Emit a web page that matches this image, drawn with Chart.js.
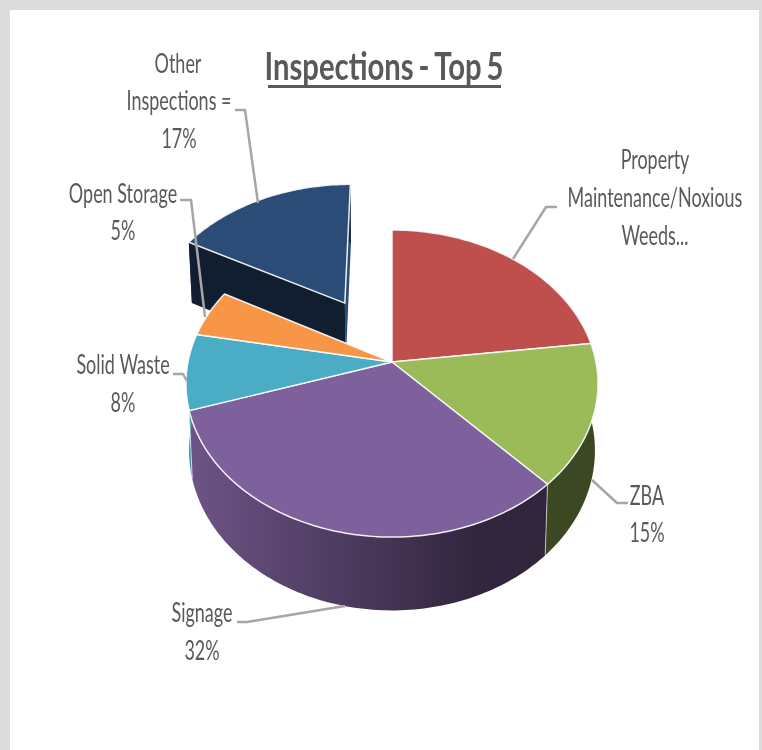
<!DOCTYPE html>
<html>
<head>
<meta charset="utf-8">
<title>Inspections - Top 5</title>
<script src="https://cdn.jsdelivr.net/npm/chart.js@4/dist/chart.umd.min.js"></script>
<style>
  html, body { margin: 0; padding: 0; background: #dcdcdc; overflow: hidden; }
  #plate { position: absolute; left: 10px; top: 10px; width: 749px; height: 740px; background: #fff; }
  #pie { position: absolute; left: 0; top: 0; display: block; }
</style>
</head>
<body>
<div id="plate"></div>
<canvas id="pie" width="762" height="750"></canvas>
<script>
const categories = ['Property Maintenance/Noxious Weeds...', 'ZBA', 'Signage', 'Solid Waste', 'Open Storage', 'Other Inspections ='];
const percentValues = [23, 15, 32, 8, 5, 17];
const sliceColors = ['#be4f4c', '#9bbb59', '#7e609c', '#4bacc6', '#f79646', '#2b4c76'];
const sliceOffsets = [0, 0, 0, 0, 0, 392];

// Callout text and leader lines
const callouts = [
  { lines: [['Property', 655, 169], ['Maintenance/Noxious', 655, 207], ['Weeds...', 655, 245]], leader: [[557, 207], [546, 207], [513, 259]] },
  { lines: [['ZBA', 647, 505], ['%', 647, 542]], leader: [[628, 503], [617, 503], [592, 480]] },
  { lines: [['Signage', 202, 622], ['%', 202, 660]], leader: [[237, 622], [247, 622], [345, 606]] },
  { lines: [['Solid Waste', 123, 374], ['%', 123, 412]], leader: [[173, 374], [183, 374], [187, 381]] },
  { lines: [['Open Storage', 123, 203], ['%', 123, 240]], leader: [[180, 200], [191, 200], [205, 317]] },
  { lines: [['Other', 178, 73], ['Inspections =', 179, 110], ['%', 179, 148]], leader: [[235, 110], [245, 110], [258, 203]] }
];

const TILT = 0.738;       // vertical squash of the pie plane
const PERSPECTIVE = 0.14; // front edge larger than the back edge
const DEPTH = 66;         // height of the pie walls
const BASE_SHRINK = 0.015;
const TEXT_COLOR = '#595959';

function shade(hex, f) {
  const n = parseInt(hex.slice(1), 16);
  const r = Math.round((n >> 16) * f);
  const g = Math.round(((n >> 8) & 255) * f);
  const b = Math.round((n & 255) * f);
  return `rgb(${r},${g},${b})`;
}

// Circle plane coordinates (px from the pie centre) to screen, z = 0 top face, z = 1 base
function project(arc, px, py, z) {
  const s = 1 / (1 - PERSPECTIVE * py / arc.outerRadius);
  return [
    arc.x + px * s * (1 - z * BASE_SHRINK),
    arc.y + py * TILT * s + z * DEPTH * Math.pow(s, 0.7)
  ];
}

function tracePolygon(ctx, points) {
  ctx.beginPath();
  points.forEach((p, i) => i ? ctx.lineTo(p[0], p[1]) : ctx.moveTo(p[0], p[1]));
  ctx.closePath();
}

function slicePoints(arc, z) {
  const shift = (arc.options.offset || 0) / 4;
  const mid = (arc.startAngle + arc.endAngle) / 2;
  const ox = Math.cos(mid) * shift;
  const oy = Math.sin(mid) * shift;
  const rim = [];
  const steps = Math.max(2, Math.ceil((arc.endAngle - arc.startAngle) / 0.02));
  for (let i = 0; i <= steps; i++) {
    const a = arc.startAngle + (arc.endAngle - arc.startAngle) * i / steps;
    rim.push(project(arc, ox + Math.cos(a) * arc.outerRadius, oy + Math.sin(a) * arc.outerRadius, z));
  }
  return { rim, apex: project(arc, ox, oy, z) };
}

function drawWall(ctx, arc, color) {
  const top = slicePoints(arc, 0).rim;
  const base = slicePoints(arc, 1).rim;
  const grad = ctx.createLinearGradient(186, 0, 598, 0);
  grad.addColorStop(0, shade(color, 0.87));
  grad.addColorStop(0.7, shade(color, 0.4));
  grad.addColorStop(1, shade(color, 0.38));
  tracePolygon(ctx, top.concat(base.slice().reverse()));
  ctx.fillStyle = grad;
  ctx.fill();
}

function drawCutFace(ctx, arc, color, atEnd, factor) {
  const top = slicePoints(arc, 0);
  const base = slicePoints(arc, 1);
  const i = atEnd ? top.rim.length - 1 : 0;
  tracePolygon(ctx, [top.apex, top.rim[i], base.rim[i], base.apex]);
  ctx.fillStyle = shade(color, factor);
  ctx.fill();
}

function drawTop(ctx, arc, color) {
  const top = slicePoints(arc, 0);
  tracePolygon(ctx, [top.apex].concat(top.rim));
  ctx.fillStyle = color;
  ctx.fill();
  ctx.strokeStyle = 'rgba(255,255,255,0.9)';
  ctx.lineWidth = 1.5;
  ctx.lineJoin = 'round';
  ctx.stroke();
}

function drawSeam(ctx, arc) {
  const a = slicePoints(arc, 0).rim;
  const b = slicePoints(arc, 1).rim;
  ctx.beginPath();
  ctx.moveTo(a[0][0], a[0][1]);
  ctx.lineTo(b[0][0], b[0][1]);
  ctx.strokeStyle = 'rgba(255,255,255,0.6)';
  ctx.lineWidth = 1;
  ctx.stroke();
}

function drawText(ctx, text, x, y, font, xScale) {
  ctx.save();
  ctx.translate(x, y);
  ctx.scale(xScale, 1);
  ctx.font = font;
  ctx.textAlign = 'center';
  ctx.textBaseline = 'alphabetic';
  ctx.fillStyle = TEXT_COLOR;
  ctx.fillText(text, 0, 0);
  ctx.restore();
}

// Replaces the flat arcs with a tilted, extruded pie built from the arc elements
const pie3d = {
  id: 'pie3d',
  beforeDatasetsDraw(chart) {
    const ctx = chart.ctx;
    const arcs = chart.getDatasetMeta(0).data;
    const loose = arcs.filter(a => a.options.offset > 0);
    const seated = arcs.filter(a => !(a.options.offset > 0));

    loose.forEach(arc => {
      const color = sliceColors[arcs.indexOf(arc)];
      drawCutFace(ctx, arc, color, true, 1);
      drawWall(ctx, arc, color);
      drawCutFace(ctx, arc, color, false, 0.4);
      drawTop(ctx, arc, color);
    });
    seated.forEach(arc => drawWall(ctx, arc, sliceColors[arcs.indexOf(arc)]));
    seated.forEach(arc => drawSeam(ctx, arc));
    seated.forEach(arc => drawTop(ctx, arc, sliceColors[arcs.indexOf(arc)]));
    return false;
  }
};

const labelsPlugin = {
  id: 'calloutLabels',
  afterDraw(chart) {
    const ctx = chart.ctx;
    ctx.save();
    callouts.forEach((c, i) => {
      ctx.beginPath();
      c.leader.forEach((p, j) => j ? ctx.lineTo(p[0], p[1]) : ctx.moveTo(p[0], p[1]));
      ctx.strokeStyle = '#a6a6a6';
      ctx.lineWidth = 2.5;
      ctx.stroke();
      c.lines.forEach(l => {
        const text = l[0] === '%' ? percentValues[i] + '%' : l[0];
        drawText(ctx, text, l[1], l[2], '27px Lato', 0.665);
      });
    });

    // Title with its underline
    ctx.save();
    ctx.wordSpacing = '-3px';
    drawText(ctx, 'Inspections - Top 5', 384, 80, 'bold 39px Lato', 0.75);
    ctx.restore();
    ctx.fillStyle = TEXT_COLOR;
    ctx.fillRect(268, 85, 233, 3);
    ctx.restore();
  }
};

new Chart(document.getElementById('pie'), {
  type: 'pie',
  data: {
    labels: categories,
    datasets: [{
      data: percentValues,
      backgroundColor: sliceColors,
      offset: sliceOffsets
    }]
  },
  options: {
    responsive: false,
    animation: false,
    radius: 204,
    layout: { padding: { left: 22, bottom: 26 } },
    plugins: { legend: { display: false }, tooltip: { enabled: false } }
  },
  plugins: [pie3d, labelsPlugin]
});
</script>
</body>
</html>
